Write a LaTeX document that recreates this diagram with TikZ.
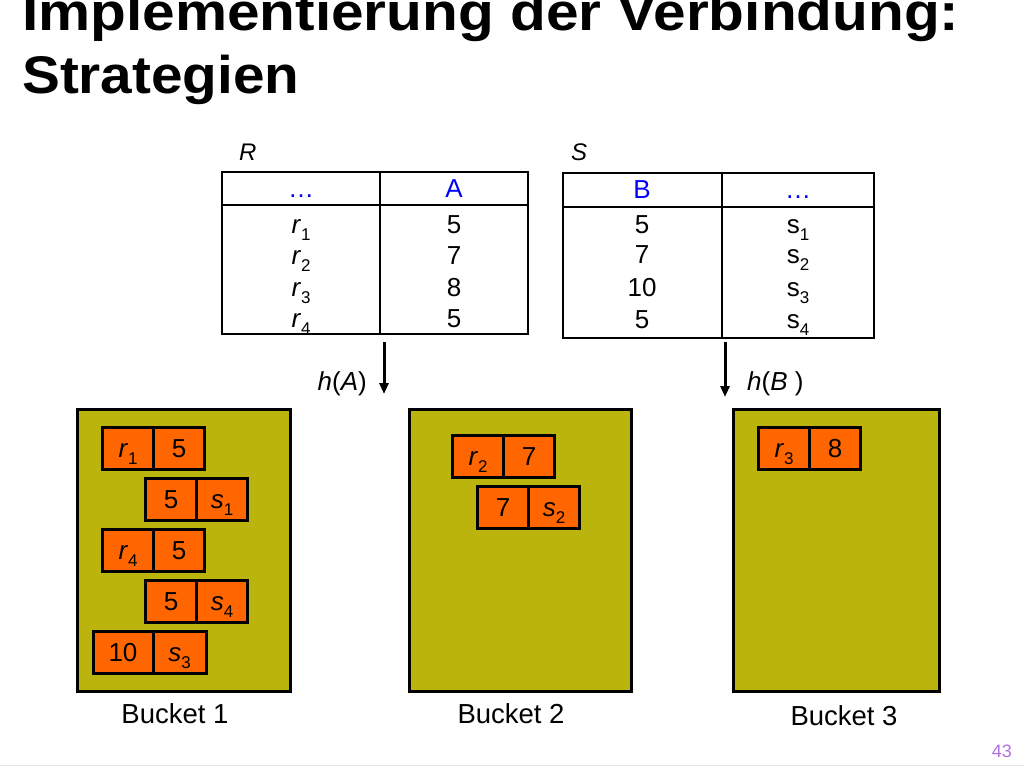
\documentclass[tikz,border=0pt]{standalone}
\usepackage{fontspec}
\setmainfont{Liberation Sans}
\usetikzlibrary{positioning}
\usetikzlibrary{arrows.meta}

\definecolor{bucketfill}{RGB}{186,180,12}
\definecolor{cellfill}{RGB}{255,102,0}
\definecolor{keyblue}{RGB}{0,0,255}
\definecolor{pagenum}{RGB}{180,110,230}

\newcommand{\titlefont}{\fontsize{53}{62}\bfseries\selectfont}
\newcommand{\tabfont}{\fontsize{26}{30}\selectfont}
\newcommand{\subnum}[1]{\raisebox{-0.28em}[0pt][0pt]{\fontsize{17}{17}\selectfont #1}}
\newcommand{\tsub}[2]{\textit{#1}\subnum{#2}}
\newcommand{\usub}[2]{#1\subnum{#2}}

\tikzset{
    bucketbox/.style={draw, line width=3pt, fill=bucketfill, inner sep=0pt, outer sep=0pt},
    cellbox/.style={draw, line width=3pt, fill=cellfill, minimum width=51pt,
        minimum height=42pt, inner sep=0pt, outer sep=0pt, font=\tabfont,
        text height=18pt, text depth=0pt},
    tabtext/.style={anchor=base, inner sep=0pt, font=\tabfont},
    tabline/.style={line width=1.3pt},
    hasharrow/.style={line width=3pt, -{Triangle[length=11pt,width=9pt]}}
}

\begin{document}
\begin{tikzpicture}[x=1pt,y=-1pt]%
        \useasboundingbox (0,0) rectangle (1024,768);
        % title
        \node[anchor=base west, inner sep=0pt, font=\titlefont] (title1) at (22,31)
            {\scalebox{1.105}[1]{Implementierung der Verbindung:}};
        \node[anchor=base west, inner sep=0pt, font=\titlefont] (title2) at (22,93)
            {\scalebox{1.07}[1]{Strategien}};
        % relation R
        \node[anchor=base west, inner sep=0pt, font=\fontsize{24}{28}\selectfont] (relR) at (239,160) {\textit{R}};
        \begin{scope}[tabline]
            \draw (222,172) rectangle (528,334);
            \draw (222,205) -- (528,205);
            \draw (380,172) -- (380,334);
        \end{scope}
        \node[tabtext, text=keyblue] (rdots) at (301,197) {\dots};
        \node[tabtext, text=keyblue] (rkey) at (454,197) {A};
        \foreach \v/\y [count=\i] in {5/233,7/264,8/296,5/327} {
            \node[tabtext] (rid\i) at (301,\y) {\tsub{r}{\i}};
            \node[tabtext] (rval\i) at (454,\y) {\v};
        }
        % relation S
        \node[anchor=base west, inner sep=0pt, font=\fontsize{24}{28}\selectfont] (relS) at (571,160) {\textit{S}};
        \begin{scope}[tabline]
            \draw (563,173) rectangle (874,338);
            \draw (563,207) -- (874,207);
            \draw (722,173) -- (722,338);
        \end{scope}
        \node[tabtext, text=keyblue] (skey) at (642,198) {B};
        \node[tabtext, text=keyblue] (sdots) at (798,198) {\dots};
        \foreach \v/\y [count=\i] in {5/233,7/263,10/296,5/328} {
            \node[tabtext] (sval\i) at (642,\y) {\v};
            \node[tabtext] (sid\i) at (798,\y) {\usub{s}{\i}};
        }
        % hash arrows
        \coordinate (hAtop) at (384,342);
        \coordinate (hAend) at (384,394);
        \coordinate (hBtop) at (725,342);
        \coordinate (hBend) at (725,397);
        \draw[hasharrow] (hAtop) -- (hAend);
        \draw[hasharrow] (hBtop) -- (hBend);
        \node[anchor=base east, inner sep=0pt, font=\tabfont] (hA) at (367,390) {\textit{h}(\textit{A})};
        \node[anchor=base west, inner sep=0pt, font=\tabfont] (hB) at (747,390) {\textit{h}(\textit{B} )};
        % buckets
        \node[bucketbox, minimum width=213pt, minimum height=282pt] (bucket1) at (183.5,550) {};
        \node[bucketbox, minimum width=222pt, minimum height=282pt] (bucket2) at (520,550) {};
        \node[bucketbox, minimum width=206pt, minimum height=282pt] (bucket3) at (836,550) {};
        \node[tabtext, font=\fontsize{27.5}{32}\selectfont] (blabel1) at (175,723) {Bucket 1};
        \node[tabtext, font=\fontsize{27.5}{32}\selectfont] (blabel2) at (511,723) {Bucket 2};
        \node[tabtext, font=\fontsize{27.5}{32}\selectfont] (blabel3) at (844,725) {Bucket 3};
        % bucket 1
        \node[cellbox] (b1r1) at (128,448) {\tsub{r}{1}};
        \node[cellbox, right=0pt of b1r1] (b1a1) {5};
        \node[cellbox] (b1b1) at (171,499) {5};
        \node[cellbox, right=0pt of b1b1] (b1s1) {\tsub{s}{1}};
        \node[cellbox] (b1r4) at (128,550) {\tsub{r}{4}};
        \node[cellbox, right=0pt of b1r4] (b1a4) {5};
        \node[cellbox] (b1b4) at (171,601) {5};
        \node[cellbox, right=0pt of b1b4] (b1s4) {\tsub{s}{4}};
        \node[cellbox, minimum width=60pt] (b1b3) at (123,652) {10};
        \node[cellbox, minimum width=53pt, right=0pt of b1b3] (b1s3) {\tsub{s}{3}};
        % bucket 2
        \node[cellbox] (b2r2) at (478,456) {\tsub{r}{2}};
        \node[cellbox, right=0pt of b2r2] (b2a2) {7};
        \node[cellbox] (b2b2) at (503,507) {7};
        \node[cellbox, right=0pt of b2b2] (b2s2) {\tsub{s}{2}};
        % bucket 3
        \node[cellbox] (b3r3) at (784,448) {\tsub{r}{3}};
        \node[cellbox, right=0pt of b3r3] (b3a3) {8};
        % footer
        \node[anchor=base east, inner sep=0pt, text=pagenum, font=\fontsize{18}{20}\selectfont] (pageno) at (1012,757) {43};
        \draw[black!10, line width=1pt] (0,765) -- (1024,765);
    \end{tikzpicture}
\end{document}
